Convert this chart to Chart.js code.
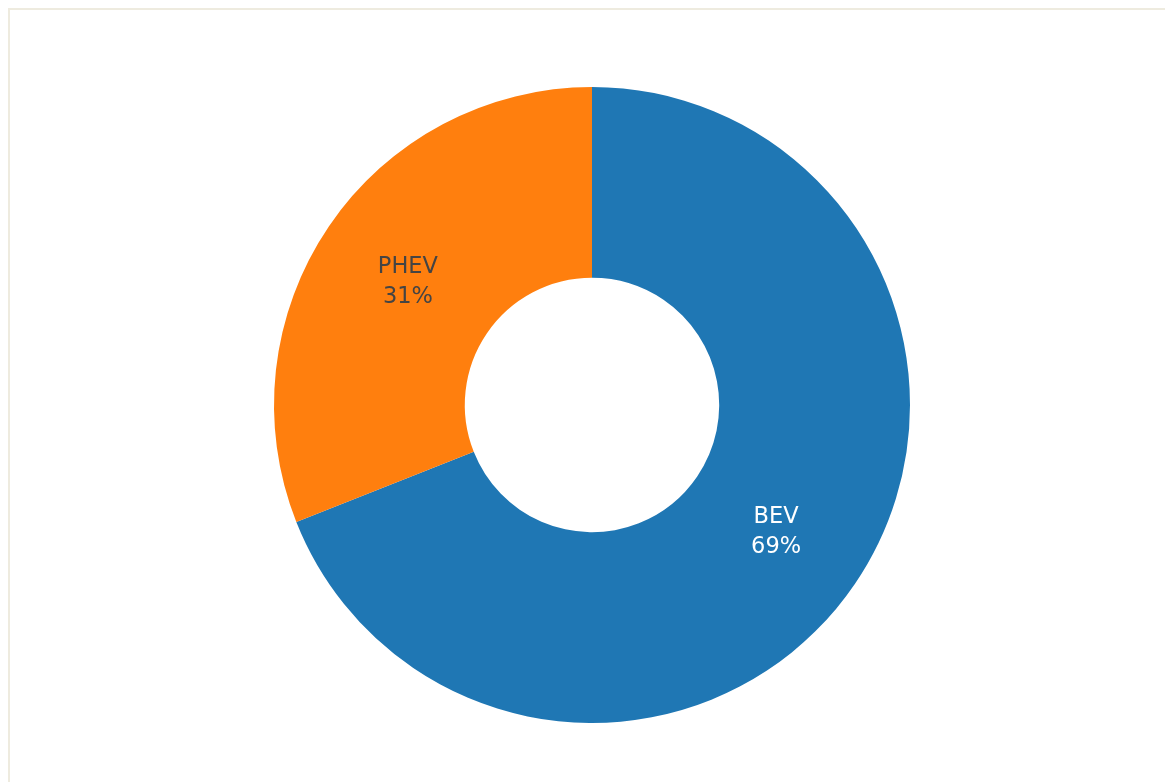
<!DOCTYPE html>
<html>
<head>
<meta charset="utf-8">
<script src="https://cdn.jsdelivr.net/npm/chart.js@4/dist/chart.umd.min.js"></script>
<style>
  body { margin: 0; background: #fff; overflow: hidden; }
  #frame {
    position: absolute; left: 8px; top: 8px; width: 1200px; height: 800px;
    border-left: 2px solid #eeebdf; border-top: 2px solid #eeebdf;
  }
  #chart { position: absolute; left: 0; top: 0; }
</style>
</head>
<body>
<div id="frame"></div>
<canvas id="chart" width="1165" height="782"></canvas>
<script>
const categories = ['BEV', 'PHEV'];
const shares = [69, 31];
const sliceColors = ['#1f77b4', '#ff7f0e'];
const labelColors = ['#ffffff', '#444444'];

const chartContext = document.getElementById('chart').getContext('2d');

// draws "label\nxx%" at the middle of each slice
const sliceLabels = {
  id: 'sliceLabels',
  afterDatasetsDraw(chart) {
    const ctx = chart.ctx;
    const meta = chart.getDatasetMeta(0);
    const total = shares.reduce((a, b) => a + b, 0);
    ctx.save();
    ctx.font = '22.5px "DejaVu Sans", Verdana, sans-serif';
    ctx.textAlign = 'center';
    ctx.textBaseline = 'middle';
    meta.data.forEach((arc, i) => {
      const pos = arc.tooltipPosition();
      const pct = Math.round(shares[i] / total * 100) + '%';
      ctx.fillStyle = labelColors[i];
      ctx.fillText(categories[i], pos.x, pos.y - 13);
      ctx.fillText(pct, pos.x, pos.y + 17);
    });
    ctx.restore();
  }
};

new Chart(chartContext, {
  type: 'doughnut',
  data: {
    labels: categories,
    datasets: [{
      data: shares,
      backgroundColor: sliceColors,
      borderWidth: 0
    }]
  },
  options: {
    responsive: false,
    animation: false,
    cutout: '40%',
    layout: { padding: { top: 87, bottom: 59, left: 19, right: 0 } },
    plugins: {
      legend: { display: false },
      tooltip: { enabled: false }
    }
  },
  plugins: [sliceLabels]
});
</script>
</body>
</html>
